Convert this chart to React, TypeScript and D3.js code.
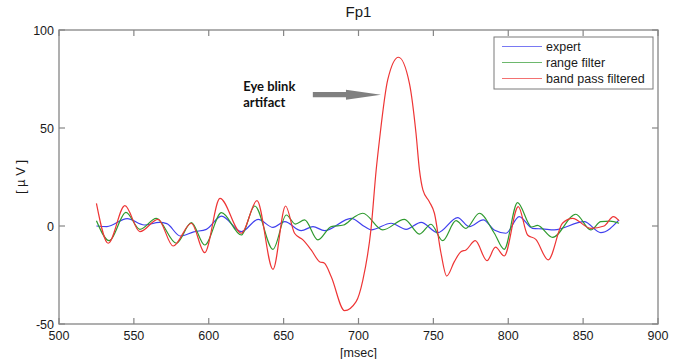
import React from "react";
import * as d3 from "d3";

// ---- data ----
const expertMs = [525, 532, 545.5, 557, 567, 572, 581, 590, 598.4, 608.5, 621.8, 633, 642.9, 650.7, 661.8, 669.6, 677.3, 695.1, 704, 708.4, 721.8, 731.8, 741.8, 752.9, 766.2, 774, 783.3, 791, 798.4, 807.3, 816.2, 823, 830.7, 850.7, 861.8, 874];
const expertVal = [0, -0.3, 3.8, 0.5, 1.8, 1.2, -5.1, -3.0, -1.7, 5.0, -2.9, 3.4, -0.7, 2.2, -2.4, -0.3, -2.4, 3.9, -0.3, -2.0, 1.4, -1.7, 1.9, -3.4, 4.3, -0.3, 3.1, -2.2, -3.7, 4.8, -1.2, -1.5, -2.0, 2.2, -3.4, 3.1];

const rangeMs = [525, 533.6, 544.7, 554, 565, 578.4, 588.4, 597.3, 608.5, 621.8, 630.7, 642.9, 651.8, 657.8, 664, 672.9, 681.8, 690, 697, 702.9, 716.2, 730.7, 740.7, 748.4, 756.2, 765.1, 771.8, 780.7, 790.7, 797.3, 806.2, 815.6, 819.5, 829.6, 845.1, 855.1, 861.8, 868, 874];
const rangeVal = [2.7, -7.5, 7.0, -1.7, 3.9, -8.8, 1.7, -9.7, 6.8, -4.6, 10.2, -11.9, 5.6, 1.0, 3.1, -7.1, -0.3, 0.5, 4.5, 6.5, -2.0, 3.4, -4.1, 0.9, -7.5, 2.7, -1.2, 6.5, -3.7, -11.9, 11.9, -0.5, 0.3, -5.8, 6.0, -2.0, 2.2, 2.5, 1.4];

const bandMs = [525, 532.9, 544, 554, 566.2, 576.2, 588.4, 597.3, 607.5, 621.8, 632.2, 642.9, 651.3, 657.3, 662.9, 668.4, 674, 677.3, 681.8, 690.7, 698.4, 702.9, 708.4, 711.8, 714, 719.5, 726.7, 734, 738.4, 740.7, 743, 747.3, 750.7, 755.1, 758.9, 764, 768.4, 771.8, 778, 785.8, 791.5, 797.3, 806.7, 812.9, 818.4, 826.7, 836.2, 842.9, 855.1, 864, 870.2, 874];
const bandVal = [11.6, -8.8, 10.4, -2.9, 3.4, -10.2, 1.4, -13.6, 14.1, -3.7, 12.9, -22.1, 10.2, -3.7, -7.1, -12.2, -18.2, -19.0, -25.9, -43.2, -38.6, -27.6, -1.2, 28.6, 43.9, 74.5, 86.1, 72.8, 47.3, 28.6, 18.4, 12.4, 6.5, -13.9, -25.5, -18.2, -13.1, -12.2, -7.5, -17.7, -10.8, -15.3, 9.9, -4.6, -6.8, -17.3, 1.4, 3.9, -1.2, 0, 4.8, 2.7];

const seriesNames = ["expert", "range filter", "band pass filtered"];
const seriesColors = ["#4040ee", "#2f9a2f", "#ee3535"];
const xTicks = [500, 550, 600, 650, 700, 750, 800, 850, 900];
const yTicks = [-50, 0, 50, 100];

const titleText = "Fp1";
const xLabel = "[msec]";
const yLabel = "[ \u00b5 V ]";
const annotationLines = ["Eye blink", "artifact"];
// annotation anchor points in data units [ms, µV]
const annotationTextAt = [623, 69];
const arrowTail = [669.5, 67];
const arrowTip = [715, 67];

export default function App() {
  const W = 689;
  const H = 359;
  const x = d3.scaleLinear().domain([500, 900]).range([59, 658]);
  const y = d3.scaleLinear().domain([-50, 100]).range([324, 30]);
  const [x0, x1] = x.range();
  const [yb, yt] = y.range();

  const series = [
    { ms: expertMs, v: expertVal },
    { ms: rangeMs, v: rangeVal },
    { ms: bandMs, v: bandVal },
  ];
  const line = d3
    .line<[number, number]>()
    .x((d) => x(d[0]))
    .y((d) => y(d[1]))
    .curve(d3.curveMonotoneX);

  const axisColor = "#858585";
  const font = "'Liberation Sans', Arial, sans-serif";
  const tickLen = 6;

  // arrow geometry
  const tx = x(arrowTip[0]);
  const ty = y(arrowTip[1]);
  const sx = x(arrowTail[0]);
  const headLen = 35;
  const headHalf = 5;
  const shaftHalf = 2.6;

  const legend = { x: 494, y: 37, w: 159, h: 52 };

  return (
    <svg
      width={W}
      height={H}
      style={{ position: "absolute", left: 0, top: 0, background: "#fff" }}
      fontFamily={font}
    >
      <rect x={0} y={0} width={W} height={H} fill="#fff" />
      {/* plot box */}
      <rect x={x0} y={yt} width={x1 - x0} height={yb - yt} fill="none" stroke={axisColor} strokeWidth={1.3} />
      {/* x ticks */}
      {xTicks.map((t) => (
        <g key={"xt" + t}>
          <line x1={x(t)} x2={x(t)} y1={yb} y2={yb - tickLen} stroke={axisColor} strokeWidth={1.2} />
          <line x1={x(t)} x2={x(t)} y1={yt} y2={yt + tickLen} stroke={axisColor} strokeWidth={1.2} />
          <text x={x(t)} y={yb + 16} fontSize={12.5} textAnchor="middle" fill="#1a1a1a">
            {t}
          </text>
        </g>
      ))}
      {/* y ticks */}
      {yTicks.map((t) => (
        <g key={"yt" + t}>
          <line x1={x0} x2={x0 + tickLen} y1={y(t)} y2={y(t)} stroke={axisColor} strokeWidth={1.2} />
          <line x1={x1} x2={x1 - tickLen} y1={y(t)} y2={y(t)} stroke={axisColor} strokeWidth={1.2} />
          <text x={x0 - 5} y={y(t) + 4.5} fontSize={12.5} textAnchor="end" fill="#1a1a1a">
            {t}
          </text>
        </g>
      ))}
      {/* series */}
      {series.map((s, i) => (
        <path
          key={"s" + i}
          d={line(s.ms.map((m, j) => [m, s.v[j]] as [number, number])) || ""}
          fill="none"
          stroke={seriesColors[i]}
          strokeWidth={1.2}
        />
      ))}
      {/* title & labels */}
      <text x={(x0 + x1) / 2} y={17} fontSize={15} textAnchor="middle" fill="#1a1a1a">
        {titleText}
      </text>
      <text x={(x0 + x1) / 2} y={357} fontSize={12.5} textAnchor="middle" fill="#1a1a1a">
        {xLabel}
      </text>
      <text
        transform={`translate(25, ${(yt + yb) / 2}) rotate(-90)`}
        fontSize={13}
        textAnchor="middle"
        fill="#1a1a1a"
      >
        {yLabel}
      </text>
      {/* annotation */}
      {annotationLines.map((l, i) => (
        <text
          key={"an" + i}
          x={x(annotationTextAt[0])}
          y={y(annotationTextAt[1]) + i * 16}
          fontSize={13}
          fontWeight="bold"
          fontFamily="Lato, 'Open Sans', sans-serif"
          fill="#111"
        >
          {l}
        </text>
      ))}
      <path
        d={`M${sx},${ty - shaftHalf} L${tx - headLen},${ty - shaftHalf} L${tx - headLen},${ty - headHalf} L${tx},${ty} L${tx - headLen},${ty + headHalf} L${tx - headLen},${ty + shaftHalf} L${sx},${ty + shaftHalf} Z`}
        fill="#808080"
      />
      {/* legend */}
      <rect x={legend.x} y={legend.y} width={legend.w} height={legend.h} fill="#fff" stroke="#7a7a7a" strokeWidth={1} />
      {seriesNames.map((n, i) => (
        <g key={"lg" + i}>
          <line
            x1={legend.x + 8}
            x2={legend.x + 48}
            y1={legend.y + 9.5 + i * 16}
            y2={legend.y + 9.5 + i * 16}
            stroke={seriesColors[i]}
            strokeOpacity={0.7}
            strokeWidth={1.1}
          />
          <text x={legend.x + 52} y={legend.y + 14 + i * 16} fontSize={12.5} fill="#1a1a1a">
            {n}
          </text>
        </g>
      ))}
    </svg>
  );
}
